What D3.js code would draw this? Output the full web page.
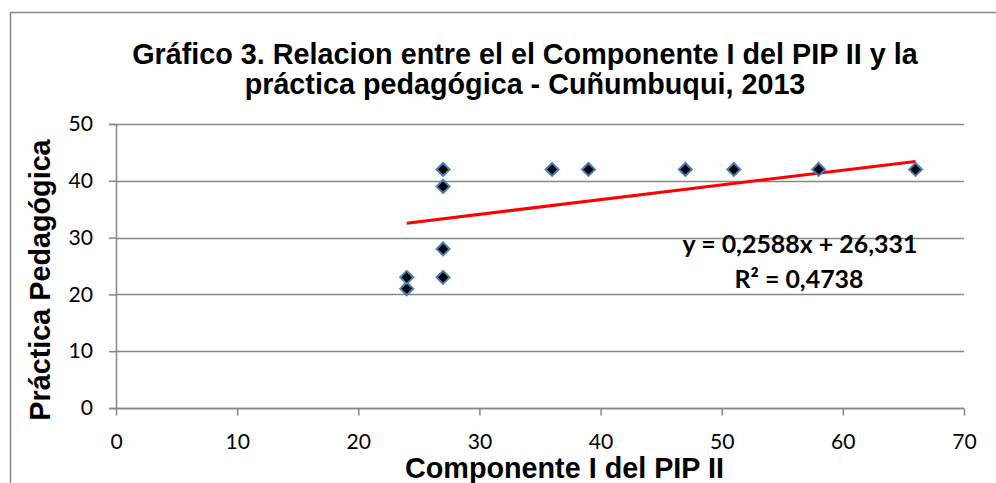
<!DOCTYPE html>
<html><head><meta charset="utf-8">
<script src="https://cdn.jsdelivr.net/npm/d3@7"></script>
<style>body{margin:0;background:#fff}</style>
</head><body>
<script>
const xValues = [24, 24, 27, 27, 27, 27, 36, 39, 47, 51, 58, 66];
const yValues = [21, 23, 23, 28, 39, 42, 42, 42, 42, 42, 42, 42];
const xTicks = [0, 10, 20, 30, 40, 50, 60, 70];
const yTicks = [0, 10, 20, 30, 40, 50];
const slope = 0.2588, intercept = 26.331;
const titleLines = ["Gráfico 3. Relacion entre el el Componente I del PIP II y la", "práctica pedagógica - Cuñumbuqui, 2013"];
const eqText = "y = 0,2588x + 26,331";
const r2Text = "R² = 0,4738";

const W = 996, H = 483;
const svg = d3.select("body").append("svg").attr("width", W).attr("height", H);
svg.append("rect").attr("x", 10.5).attr("y", 12.5).attr("width", 1000).attr("height", 1000)
  .attr("fill", "#fff").attr("stroke", "#868686").attr("stroke-width", 1.5);

const x = d3.scaleLinear().domain([0, 70]).range([116, 964]);
const y = d3.scaleLinear().domain([0, 50]).range([408, 124]);
const grey = "#868686";
const sans = "'Liberation Sans', Arial, sans-serif";
const tickFont = "Lato, 'Open Sans', sans-serif";

function fitSize(text, family, weight, target) {
  const t = svg.append("text").attr("font-family", family).attr("font-weight", weight)
    .attr("font-size", 20).text(text);
  const len = t.node().getComputedTextLength();
  t.remove();
  return 20 * target / len;
}
const tickSize = fitSize("10", tickFont, "normal", 24.5);
const titleSize = fitSize(titleLines[0], sans, "bold", 786);
const eqSize = fitSize(eqText, "Lato, sans-serif", "bold", 235);

// gridlines
svg.append("g").selectAll("line").data(yTicks).join("line")
  .attr("x1", x(0)).attr("x2", x(70)).attr("y1", d => Math.round(y(d)) + 0.5).attr("y2", d => Math.round(y(d)) + 0.5)
  .attr("stroke", grey).attr("stroke-width", 1.5);

const yAxis = svg.append("g").attr("transform", `translate(${x(0)},0)`)
  .call(d3.axisLeft(y).tickValues(yTicks).tickSize(7).tickPadding(16).tickFormat(d3.format("d")));
const xAxis = svg.append("g").attr("transform", `translate(0,${Math.round(y(0)) + 0.5})`)
  .call(d3.axisBottom(x).tickValues(xTicks).tickSize(7).tickPadding(19).tickFormat(d3.format("d")));
[xAxis, yAxis].forEach(a => {
  a.attr("font-family", tickFont).attr("font-size", tickSize);
  a.selectAll("path,line").attr("stroke", grey).attr("stroke-width", 1.5);
  a.selectAll("text").attr("fill", "#000");
});
xAxis.select(".domain").remove();
xAxis.append("line").attr("x1", x(0)).attr("x2", x(70)).attr("stroke", grey).attr("stroke-width", 1.5);

// trendline
const xs = d3.extent(xValues);
svg.append("line")
  .attr("x1", x(xs[0])).attr("y1", y(slope * xs[0] + intercept))
  .attr("x2", x(xs[1])).attr("y2", y(slope * xs[1] + intercept))
  .attr("stroke", "#ff0000").attr("stroke-width", 3);

// markers
const pts = xValues.map((v, i) => [v, yValues[i]]);
svg.append("g").selectAll("path").data(pts).join("path")
  .attr("transform", d => `translate(${x(d[0])},${y(d[1])})`)
  .attr("d", "M0,-6.5L6.5,0L0,6.5L-6.5,0Z")
  .attr("fill", "#000").attr("stroke", "#4a7ebb").attr("stroke-width", 2);

// titles
const title = svg.append("text").attr("font-family", sans)
  .attr("font-weight", "bold").attr("font-size", titleSize).attr("text-anchor", "middle");
titleLines.forEach((t, i) => title.append("tspan").attr("x", 525).attr("y", 64 + i * 30).text(t));

svg.append("text").attr("x", 405).attr("y", 478).attr("text-anchor", "start")
  .attr("font-family", sans).attr("font-weight", "bold").attr("font-size", titleSize)
  .text("Componente I del PIP II");
svg.append("text").attr("transform", "translate(50,280) rotate(-90)").attr("text-anchor", "middle")
  .attr("font-family", sans).attr("font-weight", "bold").attr("font-size", titleSize)
  .text("Práctica Pedagógica");

// equation
svg.append("text").attr("x", 800).attr("y", 253).attr("text-anchor", "middle")
  .attr("font-family", "Lato, sans-serif").attr("font-weight", "bold").attr("font-size", eqSize).text(eqText);
svg.append("text").attr("x", 799).attr("y", 288).attr("text-anchor", "middle")
  .attr("font-family", "Lato, sans-serif").attr("font-weight", "bold").attr("font-size", eqSize).text(r2Text);
</script>
</body></html>
